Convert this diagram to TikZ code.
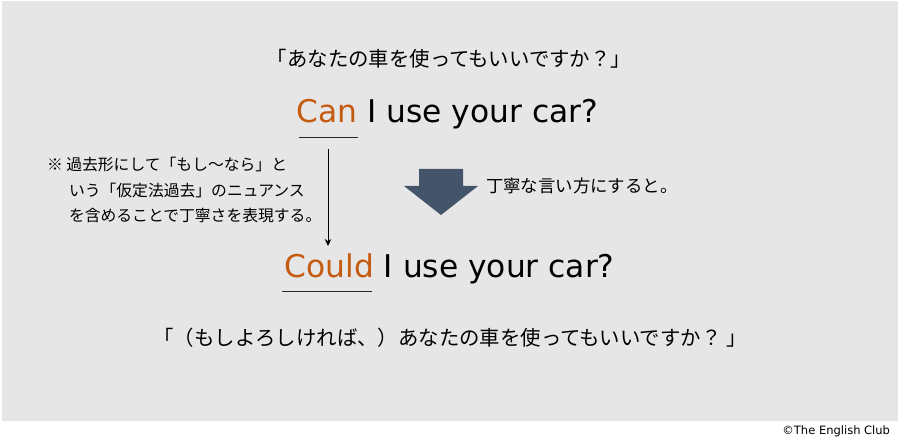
\documentclass[tikz,border=0pt]{standalone}
\usepackage{fontspec}
\usetikzlibrary{arrows.meta}
\setmainfont{DejaVu Sans}
\newfontfamily\jp{Noto Sans CJK JP}
\definecolor{bggray}{HTML}{E7E6E6}
\definecolor{orng}{HTML}{C55A11}
\definecolor{slate}{HTML}{44546A}
\begin{document}
\begin{tikzpicture}[x=1pt,y=-1pt,
  every node/.style={inner sep=0pt,outer sep=0pt},
  eng/.style={font=\fontsize{31.3}{36}\selectfont,anchor=base west},
  jpbig/.style={font=\jp\fontsize{20.4}{24}\selectfont},
  jpnote/.style={font=\jp\fontsize{15.8}{20}\selectfont,anchor=west},
  jpmid/.style={font=\jp\fontsize{17.4}{20}\selectfont,anchor=west},
  uline/.style={line width=1pt,black!85},
  thinarrow/.style={line width=0.9pt,-{Stealth[length=7pt,width=6.5pt]}}]
\useasboundingbox (0,0) rectangle (900,446);
\fill[bggray] (1.5,1.5) rectangle (897.5,421);

\node[jpbig] (jtop) at (449,59) {「あなたの車を使ってもいいですか？」};

\node[eng] (can) at (296.5,123) {\textcolor{orng}{Can} I use your car?};
\draw[uline] (299,137.7) -- (357.7,137.7);

\coordinate (atop) at (328,149);
\coordinate (abot) at (328,246);
\draw[thinarrow] (atop) -- (abot);

\node[jpnote] (n1) at (47,165) {※ 過去形にして「もし～なら」と};
\node[jpnote] (n2) at (69,191) {いう「仮定法過去」のニュアンス};
\node[jpnote] (n3) at (69,216) {を含めることで丁寧さを表現する。};

\fill[slate] (419,169) -- (463,169) -- (463,186) -- (478,186) -- (441,215) -- (404,186) -- (419,186) -- cycle;
\node[jpmid] (polite) at (486,186) {丁寧な言い方にすると。};

\node[eng] (could) at (284.5,278) {\textcolor{orng}{Could} I use your car?};
\draw[uline] (282,292) -- (372,292);

\node[jpbig] (jbot) at (450,338) {「（もしよろしければ、）あなたの車を使ってもいいですか？ 」};

\node[font=\fontsize{11.5}{13}\selectfont,anchor=base east] (copy) at (890,434) {©The English Club};
\end{tikzpicture}
\end{document}
